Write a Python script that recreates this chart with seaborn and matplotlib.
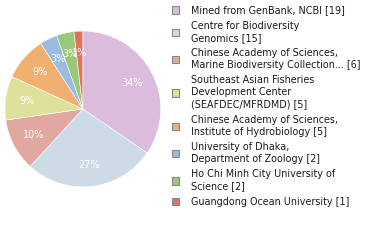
import math
import matplotlib
matplotlib.use("Agg")
import matplotlib.pyplot as plt
from matplotlib.patches import Patch
import seaborn as sns

labels = [
    "Mined from GenBank, NCBI [19]",
    "Centre for Biodiversity\nGenomics [15]",
    "Chinese Academy of Sciences,\nMarine Biodiversity Collection... [6]",
    "Southeast Asian Fisheries\nDevelopment Center\n(SEAFDEC/MFRDMD) [5]",
    "Chinese Academy of Sciences,\nInstitute of Hydrobiology [5]",
    "University of Dhaka,\nDepartment of Zoology [2]",
    "Ho Chi Minh City University of\nScience [2]",
    "Guangdong Ocean University [1]",
]
values = [19, 15, 6, 5, 5, 2, 2, 1]
colors = ["#dcbcdc", "#cddbe7", "#e0a8a0", "#dde19c", "#f0b070", "#9cbbe0", "#9ac87a", "#e07260"]

sns.set_theme(style="white")
plt.rcParams['font.family'] = ['DejaVu Sans']
palette = sns.color_palette(colors)

fig = plt.figure(figsize=(3.8, 2.4), dpi=100)
ax = fig.add_axes([0.013, 0.221, 0.41, 0.65])


def fmt(p):
    return f"{int(math.floor(p + 1e-9))}%"


ax.pie(values, colors=palette, startangle=90, counterclock=False,
       autopct=fmt, pctdistance=0.72,
       wedgeprops=dict(edgecolor="white", linewidth=0.4),
       textprops=dict(color="white", fontsize=7))
ax.set_xlim(-1, 1)
ax.set_ylim(-1, 1)
ax.set_aspect("equal")
ax.axis("off")

handles = [Patch(facecolor=c, edgecolor="#888888", linewidth=0.8) for c in colors]
leg = fig.legend(handles, labels, loc="upper left", bbox_to_anchor=(0.452, 0.978),
                 frameon=False, fontsize=6.9, handlelength=0.8, handleheight=0.8,
                 handletextpad=1.2, labelspacing=0.55, borderaxespad=0, borderpad=0)
for t in leg.get_texts():
    t.set_linespacing(1.26)
    t.set_color("#1a1a1a")

fig.savefig("out.png", dpi=100)
